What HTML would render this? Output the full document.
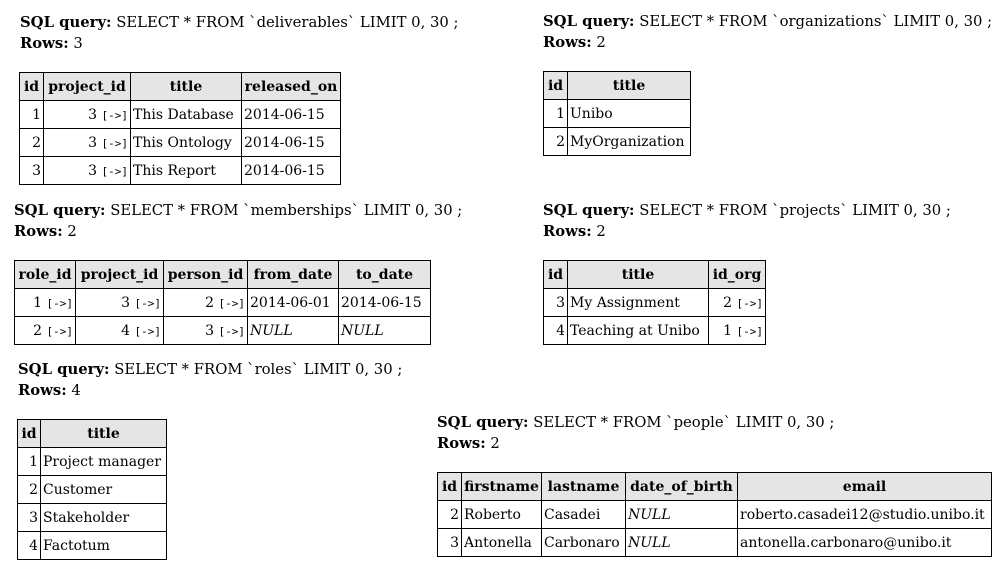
<!DOCTYPE html>
<html><head><meta charset="utf-8"><style>
body{margin:0;width:996px;height:569px;background:#fff;position:relative;overflow:hidden;font-family:"DejaVu Serif","Liberation Serif",serif;font-size:14.8px;color:#000}
.q{position:absolute;line-height:21px;white-space:nowrap}
table{position:absolute;border-collapse:collapse;table-layout:fixed;font-size:14px}
td,th{border:1px solid #000;height:28px;padding:0 2px;white-space:nowrap;overflow:hidden;box-sizing:border-box}
th{background:#e5e5e5;font-weight:bold;text-align:center}
.r{text-align:right}
.m{font-family:"DejaVu Sans Mono",monospace;font-size:11px}
i{font-style:italic}
</style></head><body>
<div class="q" style="left:20px;top:12px"><b>SQL query:</b> SELECT * FROM `deliverables` LIMIT 0, 30 ;<br><b>Rows:</b> 3</div>
<table style="left:19px;top:72px;width:321px"><colgroup><col style="width:24px"><col style="width:87px"><col style="width:111px"><col style="width:99px"></colgroup>
<tr><th>id</th><th>project_id</th><th>title</th><th>released_on</th></tr>
<tr><td class="r">1</td><td class="r">3 <span class="m">[-&gt;]</span></td><td>This Database</td><td>2014-06-15</td></tr>
<tr><td class="r">2</td><td class="r">3 <span class="m">[-&gt;]</span></td><td>This Ontology</td><td>2014-06-15</td></tr>
<tr><td class="r">3</td><td class="r">3 <span class="m">[-&gt;]</span></td><td>This Report</td><td>2014-06-15</td></tr>
</table>

<div class="q" style="left:543px;top:11px"><b>SQL query:</b> SELECT * FROM `organizations` LIMIT 0, 30 ;<br><b>Rows:</b> 2</div>
<table style="left:543px;top:71px;width:147px"><colgroup><col style="width:24px"><col style="width:123px"></colgroup>
<tr><th>id</th><th>title</th></tr>
<tr><td class="r">1</td><td>Unibo</td></tr>
<tr><td class="r">2</td><td>MyOrganization</td></tr>
</table>

<div class="q" style="left:14px;top:200px"><b>SQL query:</b> SELECT * FROM `memberships` LIMIT 0, 30 ;<br><b>Rows:</b> 2</div>
<table style="left:14px;top:260px;width:416px"><colgroup><col style="width:61px"><col style="width:88px"><col style="width:84px"><col style="width:91px"><col style="width:92px"></colgroup>
<tr><th>role_id</th><th>project_id</th><th>person_id</th><th>from_date</th><th>to_date</th></tr>
<tr><td class="r">1 <span class="m">[-&gt;]</span></td><td class="r">3 <span class="m">[-&gt;]</span></td><td class="r">2 <span class="m">[-&gt;]</span></td><td>2014-06-01</td><td>2014-06-15</td></tr>
<tr><td class="r">2 <span class="m">[-&gt;]</span></td><td class="r">4 <span class="m">[-&gt;]</span></td><td class="r">3 <span class="m">[-&gt;]</span></td><td><i>NULL</i></td><td><i>NULL</i></td></tr>
</table>

<div class="q" style="left:543px;top:200px"><b>SQL query:</b> SELECT * FROM `projects` LIMIT 0, 30 ;<br><b>Rows:</b> 2</div>
<table style="left:543px;top:260px;width:222px"><colgroup><col style="width:24px"><col style="width:141px"><col style="width:57px"></colgroup>
<tr><th>id</th><th>title</th><th>id_org</th></tr>
<tr><td class="r">3</td><td>My Assignment</td><td class="r">2 <span class="m">[-&gt;]</span></td></tr>
<tr><td class="r">4</td><td>Teaching at Unibo</td><td class="r">1 <span class="m">[-&gt;]</span></td></tr>
</table>

<div class="q" style="left:18px;top:359px"><b>SQL query:</b> SELECT * FROM `roles` LIMIT 0, 30 ;<br><b>Rows:</b> 4</div>
<table style="left:17px;top:419px;width:149px"><colgroup><col style="width:23px"><col style="width:126px"></colgroup>
<tr><th>id</th><th>title</th></tr>
<tr><td class="r">1</td><td>Project manager</td></tr>
<tr><td class="r">2</td><td>Customer</td></tr>
<tr><td class="r">3</td><td>Stakeholder</td></tr>
<tr><td class="r">4</td><td>Factotum</td></tr>
</table>

<div class="q" style="left:437px;top:412px"><b>SQL query:</b> SELECT * FROM `people` LIMIT 0, 30 ;<br><b>Rows:</b> 2</div>
<table style="left:437px;top:472px;width:554px"><colgroup><col style="width:24px"><col style="width:80px"><col style="width:84px"><col style="width:112px"><col style="width:254px"></colgroup>
<tr><th>id</th><th>firstname</th><th>lastname</th><th>date_of_birth</th><th>email</th></tr>
<tr><td class="r">2</td><td>Roberto</td><td>Casadei</td><td><i>NULL</i></td><td>roberto.casadei12@studio.unibo.it</td></tr>
<tr><td class="r">3</td><td>Antonella</td><td>Carbonaro</td><td><i>NULL</i></td><td>antonella.carbonaro@unibo.it</td></tr>
</table>
</body></html>
